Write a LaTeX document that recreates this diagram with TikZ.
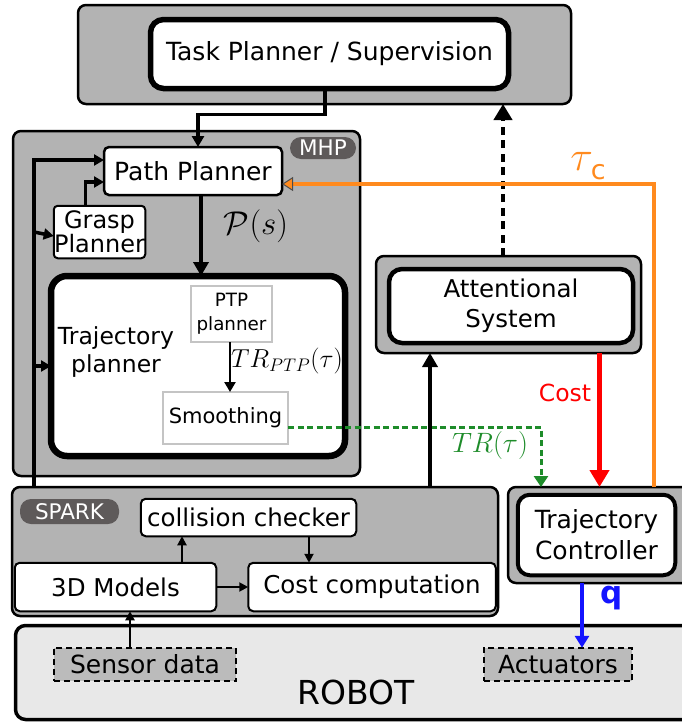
\RequirePackage{fix-cm}
\documentclass[tikz,border=0pt]{standalone}
\usepackage{fontspec}
\setmainfont{DejaVu Sans}
\usetikzlibrary{arrows.meta}

\definecolor{boxgray}{HTML}{B3B3B3}
\definecolor{pillgray}{HTML}{5E5A5A}
\definecolor{robotgray}{HTML}{E8E8E8}
\definecolor{thingray}{HTML}{C4C4C4}
\definecolor{ctrlorange}{HTML}{FF8A1E}
\definecolor{trgreen}{HTML}{1E8C2A}
\definecolor{qblue}{HTML}{1414FF}

\tikzset{
  container/.style={draw, line width=2.5pt, fill=boxgray, rounded corners=8pt, inner sep=0pt, outer sep=0pt},
  module/.style={draw, fill=white, rounded corners=5pt, inner sep=0pt, outer sep=0pt, align=center,
    font=\fontsize{24}{27}\selectfont},
  bigmodule/.style={module, rounded corners=13pt},
  subbox/.style={draw=thingray, line width=2.5pt, fill=white, inner sep=0pt, outer sep=0pt, align=center},
  pill/.style={fill=pillgray, text=white, rounded corners=11pt, inner sep=0pt, outer sep=0pt,
    font=\fontsize{21.5}{21}\selectfont},
  hwbox/.style={draw, dashed, line width=2pt, dash pattern=on 6pt off 4pt, fill=boxgray!90,
    inner sep=0pt, outer sep=0pt, font=\fontsize{25}{25}\selectfont},
  bigarrow/.style={line width=3.5pt, -{Triangle[length=14pt,width=15pt]}},
  busarrow/.style={line width=3.5pt, -{Triangle[length=10pt,width=11pt]}},
  smallarrow/.style={line width=2pt, -{Triangle[length=9pt,width=9pt]}},
}

\begin{document}
\begin{tikzpicture}[x=1pt,y=-1pt]
  \clip (0,0) rectangle (682,726);

  % Containers
  \node[container, minimum width=493pt, minimum height=99pt] (top) at (324.5,54.5) {};
  \node[container, minimum width=347pt, minimum height=345pt] (mhp) at (186.5,303.5) {};
  \node[container, minimum width=265pt, minimum height=97pt] (att) at (508.5,304.5) {};
  \node[container, minimum width=486pt, minimum height=129pt] (spark) at (255,551.5) {};
  \node[container, minimum width=183pt, minimum height=96pt] (tc) at (599.5,535) {};
  \node[container, fill=robotgray, line width=3.5pt, rounded corners=10pt,
        minimum width=683pt, minimum height=94pt] (robot) at (357,672.5) {};

  % Labels of the containers
  \node[pill, minimum width=66pt, minimum height=22pt] (mhplabel) at (323,148) {MHP};
  \node[pill, minimum width=99pt, minimum height=25pt] (sparklabel) at (69.5,511.5) {SPARK};
  \node[font=\fontsize{33}{33}\selectfont] (robottext) at (356,692) {ROBOT};

  % Modules
  \node[bigmodule, line width=5.5pt, minimum width=358pt, minimum height=69pt,
        font=\fontsize{25}{25}\selectfont] (task) at (329.5,54) {Task Planner / Supervision};
  \node[module, line width=2.5pt, minimum width=178pt, minimum height=48pt,
        font=\fontsize{25}{25}\selectfont] (path) at (193,171) {Path Planner};
  \node[module, line width=2pt, rounded corners=4pt, minimum width=91.5pt, minimum height=52.5pt,
        font=\fontsize{24}{23}\selectfont] (grasp) at (99.5,232) {Grasp\\Planner};
  \node[bigmodule, line width=6.5pt, rounded corners=16pt, minimum width=294pt, minimum height=180pt] (traj)
    at (198,366) {};
  \node[align=center, font=\fontsize{23.5}{28}\selectfont] (trajtxt) at (116,352) {Trajectory\\planner};
  \node[subbox, minimum width=81pt, minimum height=56pt, font=\fontsize{18.3}{24}\selectfont] (ptp)
    at (231.5,314) {PTP\\planner};
  \node[subbox, minimum width=125pt, minimum height=52pt, font=\fontsize{21}{20}\selectfont] (smooth)
    at (225.5,418) {Smoothing};
  \node[bigmodule, line width=4.5pt, minimum width=244pt, minimum height=74pt,
        font=\fontsize{24.5}{30}\selectfont] (attin) at (511,306) {Attentional\\System};
  \node[module, line width=2pt, minimum width=215.5pt, minimum height=37.5pt,
        font=\fontsize{24.5}{24}\selectfont] (coll) at (248.5,517.5) {collision checker};
  \node[module, line width=2pt, minimum width=201.5pt, minimum height=48.5pt,
        font=\fontsize{24.5}{24}\selectfont] (models) at (115.5,587) {3D Models};
  \node[module, line width=2pt, minimum width=247.5pt, minimum height=48.5pt,
        font=\fontsize{24.5}{24}\selectfont] (costc) at (372,587) {Cost computation};
  \node[bigmodule, line width=4pt, rounded corners=12pt, minimum width=157.5pt, minimum height=80.5pt,
        font=\fontsize{25}{31}\selectfont] (tcin) at (596.5,535) {Trajectory\\Controller};
  \node[hwbox, minimum width=182.5pt, minimum height=33.5pt] (sensor) at (145,664.5) {Sensor data};
  \node[hwbox, minimum width=148.5pt, minimum height=33.5pt] (act) at (558,664.5) {Actuators};

  % Task planner down to the path planner
  \draw[line width=3.5pt, -{Triangle[length=11pt,width=12pt]}]
    ([xshift=-4.5pt]task.south) -- ++(0,26) -| ([xshift=5pt]path.north);

  % Inputs on the left side
  \coordinate (bus) at ([xshift=22pt]spark.north west);
  \draw[busarrow] (bus) |- ([yshift=11pt]path.west);
  \draw[busarrow] (bus |- grasp.west) -- ([yshift=-4pt]grasp.west);
  \draw[busarrow] (bus |- traj.west) -- (traj.west);
  \draw[busarrow] ([xshift=-14pt]grasp.north) |- ([yshift=-11pt]path.west);

  % Path planner to trajectory planner
  \draw[bigarrow] ([xshift=8pt]path.south) -- ([xshift=8pt]path.south |- traj.north);
  \node[font=\fontsize{33}{33}\selectfont] (ps) at (256,226) {$\mathcal{P}(s)$};

  % Inside the trajectory planner
  \draw[line width=2.5pt, -{Triangle[length=10pt,width=11pt]}]
    ([xshift=-1.5pt]ptp.south) -- ([xshift=-1.5pt]ptp.south |- smooth.north);
  \node[font=\fontsize{26}{26}\selectfont] (trptp) at (287,361) {$TR_{PTP}(\tau)$};

  % Smoothed trajectory to the controller
  \draw[trgreen, line width=3pt, dash pattern=on 6pt off 3.5pt,
        -{Triangle[length=11pt,width=14pt]}]
    ([yshift=-9pt]smooth.east) -| ([xshift=-58.5pt]tc.north);
  \node[trgreen, font=\fontsize{28}{28}\selectfont] (trlabel) at (490,445) {$TR(\tau)$};

  % SPARK internals
  \draw[smallarrow] ([xshift=66.5pt]models.north) -- ([xshift=66.5pt]models.north |- coll.south);
  \draw[smallarrow] ([xshift=60.5pt]coll.south) -- ([xshift=60.5pt]coll.south |- costc.north);
  \draw[smallarrow] (models.east) -- (costc.west);
  \draw[smallarrow] ([xshift=-15pt]sensor.north) -- ([xshift=-15pt]sensor.north |- models.south);

  % SPARK up to the attentional system, and on to the task planner
  \draw[bigarrow] ([xshift=-78.5pt]att.south |- spark.north) -- ([xshift=-78.5pt]att.south);
  \draw[line width=4.5pt, dash pattern=on 8pt off 5.5pt, -{Triangle[length=16pt,width=18pt]}]
    ([xshift=-5.5pt]att.north) -- ([xshift=-5.5pt]att.north |- top.south);

  % Cost
  \draw[red, line width=4.5pt, -{Triangle[length=17pt,width=19pt]}]
    (att.south -| tc.north) -- (tc.north);
  \node[red, font=\fontsize{23.5}{23}\selectfont] (costlabel) at (565,393) {Cost};

  % Controller feedback to the path planner
  \draw[ctrlorange, line width=4.5pt,
        -{Triangle[length=11pt,width=14pt,line width=1pt,color=black!70,fill=ctrlorange]}]
    ([xshift=54.5pt]tc.north) |- ([yshift=-13pt]path.east);
  \node[ctrlorange, font=\fontsize{42}{42}\selectfont] (tauc) at (588,166)
    {$\tau$\kern-2pt\raisebox{-9pt}{\fontsize{27}{27}\selectfont c}};

  % Controller to the actuators
  \draw[qblue, line width=4.5pt, -{Triangle[length=12pt,width=14pt]}]
    ([xshift=-17.5pt]tc.south) -- ([xshift=-17.5pt]tc.south |- act.north);
  \node[qblue, font=\fontsize{31}{31}\selectfont\bfseries] (qlabel) at (612,598) {q};
\end{tikzpicture}
\end{document}
